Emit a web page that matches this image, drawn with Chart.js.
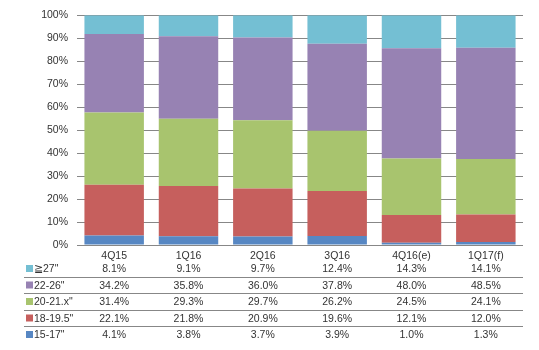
<!DOCTYPE html>
<html>
<head>
<meta charset="utf-8">
<script src="https://cdn.jsdelivr.net/npm/chart.js@4/dist/chart.umd.min.js"></script>
<style>
html,body{margin:0;padding:0;background:#fff;}
#wrap{width:539px;height:350px;position:relative;}
</style>
</head>
<body>
<div id="wrap"><canvas id="c" width="539" height="350"></canvas></div>
<script>
const categories = ['4Q15', '1Q16', '2Q16', '3Q16', '4Q16(e)', '1Q17(f)'];
const seriesNames = ['15-17"', '18-19.5"', '20-21.x"', '22-26"', '\u226727"'];
const s15_17 = [4.1, 3.8, 3.7, 3.9, 1.0, 1.3];
const s18_195 = [22.1, 21.8, 20.9, 19.6, 12.1, 12.0];
const s20_21 = [31.4, 29.3, 29.7, 26.2, 24.5, 24.1];
const s22_26 = [34.2, 35.8, 36.0, 37.8, 48.0, 48.5];
const s27 = [8.1, 9.1, 9.7, 12.4, 14.3, 14.1];
const yTicks = [0, 10, 20, 30, 40, 50, 60, 70, 80, 90, 100];

const seriesValues = [s15_17, s18_195, s20_21, s22_26, s27];
const colors = ['#5787C3', '#C65F5D', '#A8C46E', '#9782B3', '#74BFD3'];
const FONT = '"Liberation Sans", Arial, sans-serif';
const FS = 10.5;
const TXT = '#333333';
const GRID = '#878787';

const totals = categories.map((_, i) => seriesValues.reduce((a, s) => a + s[i], 0));

const datasets = seriesValues.map((vals, k) => ({
  label: seriesNames[k],
  data: vals.map((v, i) => v / totals[i] * 100),
  backgroundColor: colors[k],
  borderWidth: 0,
  barPercentage: 0.8,
  categoryPercentage: 1.0
}));

const tablePlugin = {
  id: 'table',
  afterDraw(chart) {
    const ctx = chart.ctx;
    const x = chart.scales.x;
    ctx.save();
    ctx.font = FS + 'px ' + FONT;
    ctx.fillStyle = TXT;
    ctx.textBaseline = 'alphabetic';
    ctx.textAlign = 'center';
    categories.forEach((c, i) => {
      ctx.fillText(c, x.getPixelForValue(i), 259);
    });
    const baselines = [272, 288.5, 305, 321.5, 338];
    const lines = [276.5, 293, 309.5, 326];
    ctx.strokeStyle = GRID;
    ctx.lineWidth = 1;
    lines.forEach(y => {
      ctx.beginPath();
      ctx.moveTo(24, Math.round(y) + 0.5);
      ctx.lineTo(523, Math.round(y) + 0.5);
      ctx.stroke();
    });
    for (let r = 0; r < 5; r++) {
      const k = 4 - r;
      const yb = baselines[r];
      ctx.fillStyle = colors[k];
      ctx.fillRect(26, yb - 7, 7, 7);
      ctx.fillStyle = TXT;
      ctx.textAlign = 'left';
      ctx.fillText(seriesNames[k], 34, yb);
      ctx.textAlign = 'center';
      seriesValues[k].forEach((v, i) => {
        ctx.fillText(v.toFixed(1) + '%', x.getPixelForValue(i), yb);
      });
    }
    ctx.restore();
  }
};

new Chart(document.getElementById('c'), {
  type: 'bar',
  data: { labels: categories, datasets },
  options: {
    responsive: false,
    animation: false,
    devicePixelRatio: 1,
    layout: { padding: { left: 0, right: 16, top: 15, bottom: 105 } },
    plugins: { legend: { display: false }, tooltip: { enabled: false } },
    scales: {
      x: {
        stacked: true,
        display: true,
        grid: { display: false, drawTicks: false },
        border: { display: false },
        ticks: { display: false }
      },
      y: {
        stacked: true,
        min: 0,
        max: 100,
        afterBuildTicks(axis) { axis.ticks = yTicks.map(v => ({ value: v })); },
        afterFit(axis) { axis.width = 77; },
        grid: { color: GRID, lineWidth: 1, drawTicks: false },
        border: { display: false },
        ticks: {
          padding: 9,
          color: TXT,
          font: { family: FONT, size: FS },
          callback: v => v + '%'
        }
      }
    }
  },
  plugins: [tablePlugin]
});
</script>
</body>
</html>
